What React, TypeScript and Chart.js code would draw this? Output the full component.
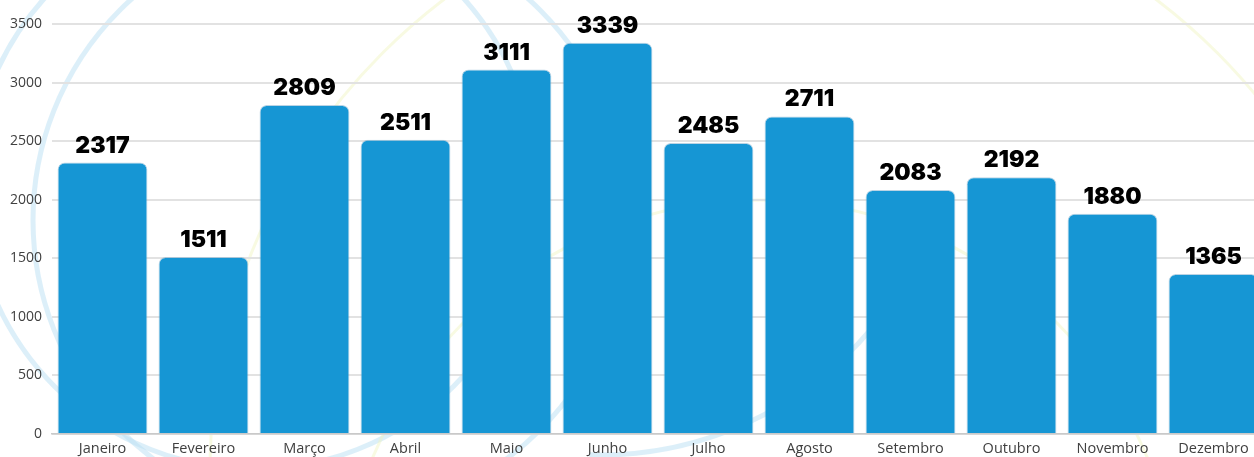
import React, { useEffect, useRef } from "react";
import { Chart, registerables } from "chart.js";

Chart.register(...registerables);

const categories = [
  "Janeiro", "Fevereiro", "Março", "Abril", "Maio", "Junho",
  "Julho", "Agosto", "Setembro", "Outubro", "Novembro", "Dezembro",
];
const values = [2317, 1511, 2809, 2511, 3111, 3339, 2485, 2711, 2083, 2192, 1880, 1365];
const yTicks = [0, 500, 1000, 1500, 2000, 2500, 3000, 3500];

const backgroundPlugin = {
  id: "bgDecor",
  beforeDraw(chart: any) {
    const ctx = chart.ctx as CanvasRenderingContext2D;
    ctx.save();
    ctx.fillStyle = "#ffffff";
    ctx.fillRect(0, 0, chart.width, chart.height);
    // faint decorative circles
    ctx.lineWidth = 5;
    ctx.strokeStyle = "rgba(185, 224, 244, 0.5)";
    ctx.beginPath();
    ctx.arc(330, 220, 297, 0, Math.PI * 2);
    ctx.stroke();
    ctx.beginPath();
    ctx.arc(254, 187, 282, 0, Math.PI * 2);
    ctx.stroke();
    ctx.beginPath();
    ctx.arc(600, 100, 355, 0.7, 1.6);
    ctx.stroke();
    ctx.lineWidth = 3;
    ctx.strokeStyle = "rgba(240, 244, 190, 0.45)";
    ctx.beginPath();
    ctx.arc(800, 470, 590, 0, Math.PI * 2);
    ctx.stroke();
    ctx.beginPath();
    ctx.arc(760, 620, 420, 0, Math.PI * 2);
    ctx.stroke();
    ctx.restore();
  },
};

const valueLabelPlugin = {
  id: "valueLabels",
  afterDatasetsDraw(chart: any) {
    const ctx = chart.ctx as CanvasRenderingContext2D;
    const meta = chart.getDatasetMeta(0);
    ctx.save();
    ctx.font = "900 23px Inter, 'Open Sans', sans-serif";
    ctx.fillStyle = "#000000";
    ctx.textAlign = "center";
    ctx.textBaseline = "alphabetic";
    meta.data.forEach((el: any, i: number) => {
      ctx.fillText(String(values[i]), el.x, el.y - 10);
    });
    ctx.restore();
  },
};

export default function App() {
  const ref = useRef<HTMLCanvasElement | null>(null);

  useEffect(() => {
    document.documentElement.style.overflow = "hidden";
    document.body.style.overflow = "hidden";
    if (!ref.current) return;
    const chart = new Chart(ref.current, {
      type: "bar",
      data: {
        labels: categories,
        datasets: [
          {
            data: values,
            backgroundColor: "#1696d4",
            borderColor: "rgba(130, 175, 205, 0.55)",
            borderWidth: 1,
            borderRadius: 7,
            barPercentage: 0.89,
            categoryPercentage: 1,
          },
        ],
      },
      options: {
        animation: false,
        responsive: true,
        maintainAspectRatio: false,
        layout: { padding: { top: 24, right: 0, bottom: 0, left: 0 } },
        plugins: {
          legend: { display: false },
          tooltip: { enabled: false },
        },
        scales: {
          x: {
            grid: { display: false, drawTicks: false },
            border: { display: true, color: "#c9c9c9", width: 1.5 },
            ticks: {
              autoSkip: false,
              maxRotation: 0,
              padding: 6,
              color: "#404040",
              font: { family: "'Open Sans', sans-serif", size: 14.5 },
            },
            afterFit(scale: any) {
              scale.height = 23;
            },
          },
          y: {
            min: 0,
            max: 3500,
            afterBuildTicks(scale: any) {
              scale.ticks = yTicks.map((v) => ({ value: v }));
            },
            grid: { color: "#e2e2e2", lineWidth: 2, drawTicks: false },
            border: { display: false },
            ticks: {
              padding: 10,
              color: "#404040",
              font: { family: "'Open Sans', sans-serif", size: 14 },
              callback: (v: any) => String(v),
            },
            afterFit(scale: any) {
              scale.width = 52;
            },
          },
        },
      },
      plugins: [backgroundPlugin, valueLabelPlugin],
    });
    return () => chart.destroy();
  }, []);

  return (
    <div style={{ position: "absolute", left: 0, top: 0, width: 1264, height: 457 }}>
      <canvas ref={ref} />
    </div>
  );
}
